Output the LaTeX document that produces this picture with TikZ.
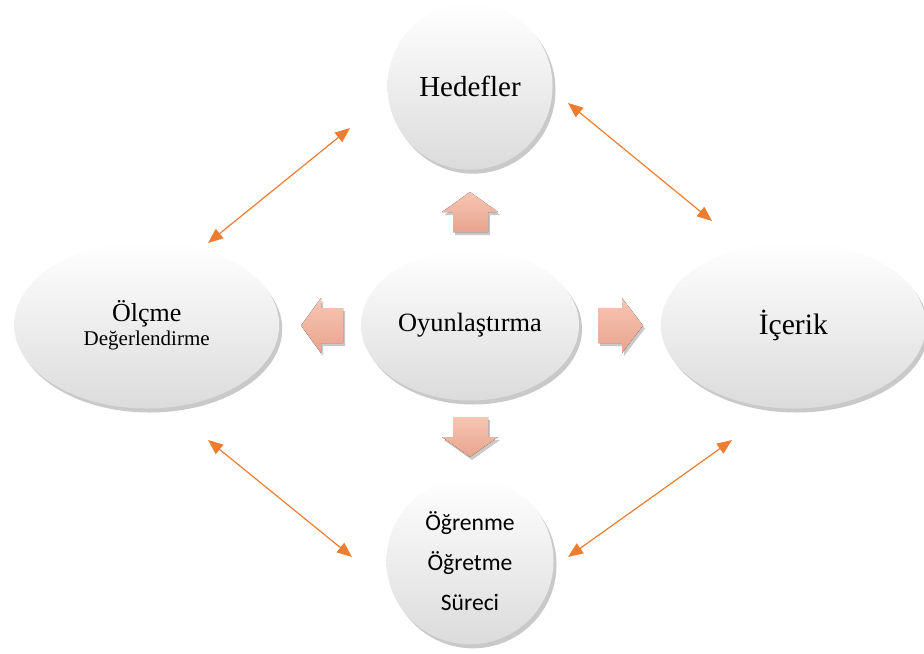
\documentclass[tikz,border=0pt]{standalone}
\usepackage{fontspec}
\setmainfont{Liberation Serif}
\newfontfamily\carlito{Carlito}
\usepackage{tikz}
\usetikzlibrary{positioning,arrows.meta,calc,shapes.geometric,shadows}

\definecolor{linkorange}{HTML}{ED7D31}
\definecolor{salmontop}{HTML}{F7C6B2}
\definecolor{salmonbot}{HTML}{E8A48E}

\tikzset{
  bubble/.style={ellipse, inner sep=0pt, top color=white, middle color=white, bottom color=black!14,
    drop shadow={shadow xshift=1.5pt, shadow yshift=-2pt, opacity=0.3, fill=black!70}},
  blockarrow/.style={top color=salmontop, bottom color=salmonbot,
    drop shadow={shadow xshift=1pt, shadow yshift=-1.5pt, opacity=0.3, fill=black!70}},
  link/.style={color=linkorange, line width=0.6pt,
    {Triangle[length=7.5pt,width=6pt]}-{Triangle[length=7.5pt,width=6pt]}}
}

\begin{document}
\begin{tikzpicture}[x=0.5pt,y=-0.5pt]

  \useasboundingbox (0,0) rectangle (924,653);

  \node[bubble, minimum width=109pt, minimum height=75.5pt, font=\fontsize{13.2}{15}\selectfont] (oyun) at (470,325) {Oyunla\c{s}t\i rma};
  \node[bubble, minimum width=82.5pt, minimum height=83.5pt, font=\fontsize{14.5}{17}\selectfont] (hedef) [above=39.5pt of oyun] {Hedefler};
  \node[bubble, minimum width=132.5pt, minimum height=83.5pt, align=center] (olcme) [left=40.5pt of oyun]
    {{\fontsize{13}{12}\selectfont \"Ol\c{c}me}\\{\fontsize{10.5}{12}\selectfont De\u{g}erlendirme}};
  \node[bubble, minimum width=132.5pt, minimum height=83.5pt, font=\fontsize{14.8}{17}\selectfont] (icerik) [right=40.5pt of oyun] {\.I\c{c}erik};
  \node[bubble, minimum width=83.5pt, minimum height=83.5pt, align=center, font=\carlito\fontsize{11.8}{20}\selectfont] (ogren) [below=38pt of oyun]
    {\"O\u{g}renme\\\"O\u{g}retme\\S\"ureci};

  % block arrows out of the centre
  \fill[blockarrow] (453,232) -- (453,212) -- (442,212) -- (470,192) -- (498,212) -- (488,212) -- (488,232) -- cycle;
  \fill[blockarrow] (453,417) -- (488,417) -- (488,437) -- (498,437) -- (470,457) -- (442,437) -- (453,437) -- cycle;
  \fill[blockarrow] (343,308) -- (321,308) -- (321,298) -- (301,325.5) -- (321,353) -- (321,343) -- (343,343) -- cycle;
  \fill[blockarrow] (598,308) -- (622,308) -- (622,298) -- (643,325.5) -- (622,353) -- (622,343) -- (598,343) -- cycle;

  % ends of the links
  \coordinate (ho) at (350,128);
  \coordinate (oh) at (208,243);
  \coordinate (hi) at (568,103);
  \coordinate (ih) at (712,221);
  \coordinate (og) at (208,440);
  \coordinate (go) at (352,557);
  \coordinate (ig) at (732,440);
  \coordinate (gi) at (568,557);

  \path[link] (ho) edge (oh);
  \path[link] (hi) edge (ih);
  \path[link] (og) edge (go);
  \path[link] (ig) edge (gi);

\end{tikzpicture}
\end{document}
